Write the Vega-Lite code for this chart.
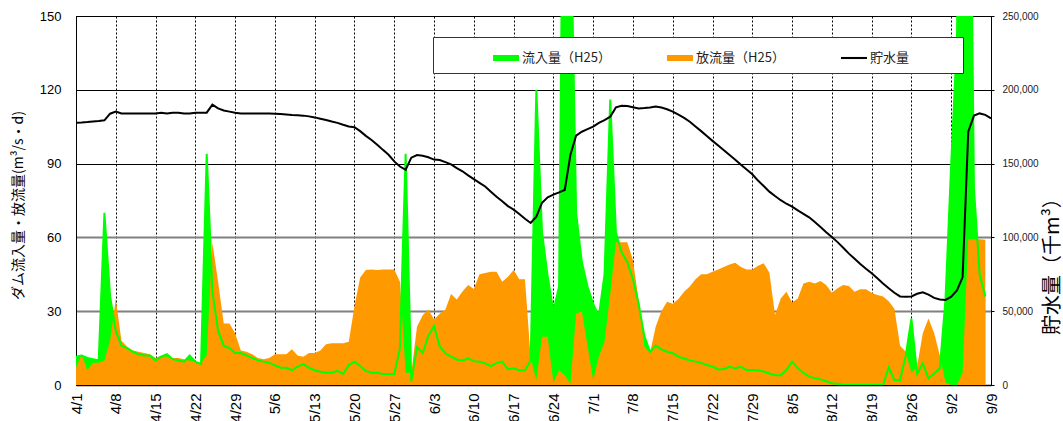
{
"$schema": "https://vega.github.io/schema/vega-lite/v6.json",
"width": 915, "height": 369,
"autosize": {"type": "none"},
"padding": {"left": 76, "top": 16, "right": 72, "bottom": 36},
"background": "white",
"config": {"view": {"stroke": "#000", "strokeWidth": 1}, "font": "Liberation Sans"},
"data": {"values": [
{"date":"2013-04-01","inflow":11.5,"outflow":7,"storage":177700},
{"date":"2013-04-02","inflow":12,"outflow":12.5,"storage":177900},
{"date":"2013-04-03","inflow":11,"outflow":6,"storage":178200},
{"date":"2013-04-04","inflow":10.5,"outflow":9,"storage":178600},
{"date":"2013-04-05","inflow":10,"outflow":9,"storage":178800},
{"date":"2013-04-06","inflow":70,"outflow":10,"storage":179300},
{"date":"2013-04-07","inflow":36,"outflow":18,"storage":183800},
{"date":"2013-04-08","inflow":22,"outflow":35,"storage":185200},
{"date":"2013-04-09","inflow":16,"outflow":18,"storage":184000},
{"date":"2013-04-10","inflow":15,"outflow":15.5,"storage":184000},
{"date":"2013-04-11","inflow":13.5,"outflow":14,"storage":184000},
{"date":"2013-04-12","inflow":12.5,"outflow":13.5,"storage":184000},
{"date":"2013-04-13","inflow":12,"outflow":13,"storage":184000},
{"date":"2013-04-14","inflow":12,"outflow":12.5,"storage":184000},
{"date":"2013-04-15","inflow":10,"outflow":11,"storage":184000},
{"date":"2013-04-16","inflow":11.5,"outflow":12,"storage":184500},
{"date":"2013-04-17","inflow":12.5,"outflow":11.5,"storage":184000},
{"date":"2013-04-18","inflow":10.5,"outflow":11,"storage":184500},
{"date":"2013-04-19","inflow":10,"outflow":11,"storage":184500},
{"date":"2013-04-20","inflow":9.5,"outflow":10.5,"storage":184000},
{"date":"2013-04-21","inflow":12,"outflow":10,"storage":184000},
{"date":"2013-04-22","inflow":9.5,"outflow":9.5,"storage":184500},
{"date":"2013-04-23","inflow":8.5,"outflow":9,"storage":184500},
{"date":"2013-04-24","inflow":94,"outflow":12,"storage":184500},
{"date":"2013-04-25","inflow":38,"outflow":58,"storage":189900},
{"date":"2013-04-26","inflow":22,"outflow":42,"storage":187400},
{"date":"2013-04-27","inflow":16,"outflow":25,"storage":186000},
{"date":"2013-04-28","inflow":15,"outflow":25,"storage":185200},
{"date":"2013-04-29","inflow":13,"outflow":21,"storage":184400},
{"date":"2013-04-30","inflow":13,"outflow":14,"storage":184000},
{"date":"2013-05-01","inflow":12,"outflow":13.5,"storage":184000},
{"date":"2013-05-02","inflow":11,"outflow":12.5,"storage":184000},
{"date":"2013-05-03","inflow":10,"outflow":11,"storage":184000},
{"date":"2013-05-04","inflow":9.5,"outflow":10.5,"storage":184000},
{"date":"2013-05-05","inflow":9,"outflow":11,"storage":184000},
{"date":"2013-05-06","inflow":8,"outflow":12.5,"storage":183800},
{"date":"2013-05-07","inflow":7,"outflow":12.5,"storage":183600},
{"date":"2013-05-08","inflow":7,"outflow":12.5,"storage":183300},
{"date":"2013-05-09","inflow":6,"outflow":14.5,"storage":183000},
{"date":"2013-05-10","inflow":7.5,"outflow":12,"storage":182800},
{"date":"2013-05-11","inflow":8.5,"outflow":11.5,"storage":182500},
{"date":"2013-05-12","inflow":7,"outflow":13,"storage":182000},
{"date":"2013-05-13","inflow":6,"outflow":13,"storage":181300},
{"date":"2013-05-14","inflow":5.4,"outflow":14,"storage":180400},
{"date":"2013-05-15","inflow":5.1,"outflow":16.6,"storage":179500},
{"date":"2013-05-16","inflow":5,"outflow":17,"storage":178500},
{"date":"2013-05-17","inflow":5.8,"outflow":17,"storage":177600},
{"date":"2013-05-18","inflow":4.5,"outflow":17,"storage":176300},
{"date":"2013-05-19","inflow":8.1,"outflow":17.6,"storage":175200},
{"date":"2013-05-20","inflow":9.5,"outflow":32,"storage":174600},
{"date":"2013-05-21","inflow":7.7,"outflow":43.7,"storage":172000},
{"date":"2013-05-22","inflow":5.7,"outflow":46.7,"storage":168800},
{"date":"2013-05-23","inflow":5,"outflow":47,"storage":166000},
{"date":"2013-05-24","inflow":5,"outflow":46.7,"storage":162800},
{"date":"2013-05-25","inflow":4.5,"outflow":47,"storage":159300},
{"date":"2013-05-26","inflow":4.5,"outflow":47,"storage":156000},
{"date":"2013-05-27","inflow":4.5,"outflow":47,"storage":151500},
{"date":"2013-05-28","inflow":15,"outflow":42,"storage":148000},
{"date":"2013-05-29","inflow":94,"outflow":5,"storage":145700},
{"date":"2013-05-30","inflow":1.5,"outflow":5,"storage":154000},
{"date":"2013-05-31","inflow":15.5,"outflow":23.7,"storage":155800},
{"date":"2013-06-01","inflow":13,"outflow":28.4,"storage":155300},
{"date":"2013-06-02","inflow":20,"outflow":30.7,"storage":154300},
{"date":"2013-06-03","inflow":24,"outflow":26.6,"storage":152700},
{"date":"2013-06-04","inflow":15.6,"outflow":29,"storage":152400},
{"date":"2013-06-05","inflow":12.9,"outflow":30.7,"storage":151000},
{"date":"2013-06-06","inflow":11.5,"outflow":37,"storage":149500},
{"date":"2013-06-07","inflow":10.4,"outflow":34.8,"storage":147000},
{"date":"2013-06-08","inflow":10,"outflow":38,"storage":144800},
{"date":"2013-06-09","inflow":10.8,"outflow":40.6,"storage":142000},
{"date":"2013-06-10","inflow":9.7,"outflow":39,"storage":139500},
{"date":"2013-06-11","inflow":9.5,"outflow":45,"storage":137000},
{"date":"2013-06-12","inflow":8.8,"outflow":45.5,"storage":134500},
{"date":"2013-06-13","inflow":7.7,"outflow":46,"storage":131000},
{"date":"2013-06-14","inflow":9,"outflow":46,"storage":127500},
{"date":"2013-06-15","inflow":9.5,"outflow":42,"storage":124500},
{"date":"2013-06-16","inflow":6.4,"outflow":44,"storage":121200},
{"date":"2013-06-17","inflow":6.8,"outflow":46.7,"storage":118800},
{"date":"2013-06-18","inflow":6,"outflow":43,"storage":115800},
{"date":"2013-06-19","inflow":6,"outflow":43,"storage":112600},
{"date":"2013-06-20","inflow":10,"outflow":11,"storage":109800},
{"date":"2013-06-21","inflow":120,"outflow":2,"storage":114000},
{"date":"2013-06-22","inflow":62,"outflow":19.6,"storage":123500},
{"date":"2013-06-23","inflow":44,"outflow":19.6,"storage":127200},
{"date":"2013-06-24","inflow":30,"outflow":1,"storage":129000},
{"date":"2013-06-25","inflow":40,"outflow":6,"storage":130500},
{"date":"2013-06-26","inflow":300,"outflow":4,"storage":132100},
{"date":"2013-06-27","inflow":200,"outflow":0.5,"storage":156000},
{"date":"2013-06-28","inflow":70,"outflow":29,"storage":169000},
{"date":"2013-06-29","inflow":50,"outflow":30,"storage":171600},
{"date":"2013-06-30","inflow":40,"outflow":16,"storage":173300},
{"date":"2013-07-01","inflow":33,"outflow":2,"storage":175000},
{"date":"2013-07-02","inflow":28,"outflow":11.5,"storage":177600},
{"date":"2013-07-03","inflow":45,"outflow":17.6,"storage":179500},
{"date":"2013-07-04","inflow":116,"outflow":37,"storage":181800},
{"date":"2013-07-05","inflow":62,"outflow":58,"storage":188100},
{"date":"2013-07-06","inflow":54,"outflow":58,"storage":189200},
{"date":"2013-07-07","inflow":50,"outflow":58,"storage":189000},
{"date":"2013-07-08","inflow":43,"outflow":50.7,"storage":188200},
{"date":"2013-07-09","inflow":33,"outflow":34.5,"storage":187400},
{"date":"2013-07-10","inflow":20,"outflow":15.6,"storage":187600},
{"date":"2013-07-11","inflow":13.5,"outflow":13,"storage":188000},
{"date":"2013-07-12","inflow":16,"outflow":23.7,"storage":188600},
{"date":"2013-07-13","inflow":14.5,"outflow":30,"storage":188000},
{"date":"2013-07-14","inflow":13.5,"outflow":33.8,"storage":186800},
{"date":"2013-07-15","inflow":12.9,"outflow":33,"storage":185200},
{"date":"2013-07-16","inflow":11.5,"outflow":35,"storage":183200},
{"date":"2013-07-17","inflow":10.8,"outflow":37.9,"storage":181000},
{"date":"2013-07-18","inflow":10,"outflow":40,"storage":178400},
{"date":"2013-07-19","inflow":9.5,"outflow":43,"storage":175200},
{"date":"2013-07-20","inflow":9,"outflow":45,"storage":172000},
{"date":"2013-07-21","inflow":8.1,"outflow":45,"storage":168700},
{"date":"2013-07-22","inflow":7.5,"outflow":46,"storage":165400},
{"date":"2013-07-23","inflow":6.3,"outflow":47,"storage":162300},
{"date":"2013-07-24","inflow":6.5,"outflow":48,"storage":159000},
{"date":"2013-07-25","inflow":7.4,"outflow":49,"storage":155800},
{"date":"2013-07-26","inflow":6.8,"outflow":49.7,"storage":152600},
{"date":"2013-07-27","inflow":7.4,"outflow":48,"storage":149200},
{"date":"2013-07-28","inflow":6.1,"outflow":47,"storage":146000},
{"date":"2013-07-29","inflow":6.1,"outflow":47,"storage":142800},
{"date":"2013-07-30","inflow":6,"outflow":48.5,"storage":138500},
{"date":"2013-07-31","inflow":5.5,"outflow":49.5,"storage":134800},
{"date":"2013-08-01","inflow":4.7,"outflow":45.7,"storage":131000},
{"date":"2013-08-02","inflow":4,"outflow":28.5,"storage":128000},
{"date":"2013-08-03","inflow":4,"outflow":35.2,"storage":125200},
{"date":"2013-08-04","inflow":6.1,"outflow":37.9,"storage":122800},
{"date":"2013-08-05","inflow":9.5,"outflow":33.5,"storage":120800},
{"date":"2013-08-06","inflow":6.8,"outflow":35.2,"storage":118300},
{"date":"2013-08-07","inflow":5,"outflow":41.3,"storage":116000},
{"date":"2013-08-08","inflow":3.4,"outflow":42,"storage":113600},
{"date":"2013-08-09","inflow":2.8,"outflow":41.3,"storage":110400},
{"date":"2013-08-10","inflow":2.3,"outflow":42.3,"storage":107000},
{"date":"2013-08-11","inflow":1.5,"outflow":40.7,"storage":103500},
{"date":"2013-08-12","inflow":0.7,"outflow":37.5,"storage":100200},
{"date":"2013-08-13","inflow":0.5,"outflow":39.3,"storage":96800},
{"date":"2013-08-14","inflow":0,"outflow":40.7,"storage":93000},
{"date":"2013-08-15","inflow":0,"outflow":40.2,"storage":89000},
{"date":"2013-08-16","inflow":0,"outflow":37.9,"storage":85500},
{"date":"2013-08-17","inflow":0,"outflow":38.9,"storage":82000},
{"date":"2013-08-18","inflow":0,"outflow":38.9,"storage":78800},
{"date":"2013-08-19","inflow":0,"outflow":37.5,"storage":75700},
{"date":"2013-08-20","inflow":0,"outflow":36.6,"storage":72300},
{"date":"2013-08-21","inflow":0,"outflow":36,"storage":68800},
{"date":"2013-08-22","inflow":7.2,"outflow":34,"storage":65500},
{"date":"2013-08-23","inflow":2,"outflow":31,"storage":62500},
{"date":"2013-08-24","inflow":2,"outflow":16,"storage":60000},
{"date":"2013-08-25","inflow":12,"outflow":13.5,"storage":59800},
{"date":"2013-08-26","inflow":27,"outflow":5,"storage":60000},
{"date":"2013-08-27","inflow":4.5,"outflow":7.5,"storage":61800},
{"date":"2013-08-28","inflow":8.8,"outflow":21,"storage":62800},
{"date":"2013-08-29","inflow":2.7,"outflow":27,"storage":61200},
{"date":"2013-08-30","inflow":4.7,"outflow":21,"storage":59000},
{"date":"2013-08-31","inflow":6.8,"outflow":12,"storage":58000},
{"date":"2013-09-01","inflow":35,"outflow":1,"storage":57600},
{"date":"2013-09-02","inflow":90,"outflow":0,"storage":59800},
{"date":"2013-09-03","inflow":140,"outflow":0,"storage":64000},
{"date":"2013-09-04","inflow":300,"outflow":5,"storage":73000},
{"date":"2013-09-05","inflow":300,"outflow":59.2,"storage":171600},
{"date":"2013-09-06","inflow":80,"outflow":59.2,"storage":182500},
{"date":"2013-09-07","inflow":45,"outflow":59.2,"storage":184000},
{"date":"2013-09-08","inflow":36,"outflow":59,"storage":183000},
{"date":"2013-09-09","inflow":null,"outflow":null,"storage":180700}
]},
"encoding": {
  "x": {"field": "date", "type": "temporal",
    "scale": {"type": "utc", "domain": [{"year":2013,"month":4,"date":1,"utc":true},{"year":2013,"month":9,"date":9,"utc":true}]},
    "axis": {
      "values": [
        {"year":2013,"month":4,"date":1,"utc":true},{"year":2013,"month":4,"date":8,"utc":true},{"year":2013,"month":4,"date":15,"utc":true},{"year":2013,"month":4,"date":22,"utc":true},{"year":2013,"month":4,"date":29,"utc":true},
        {"year":2013,"month":5,"date":6,"utc":true},{"year":2013,"month":5,"date":13,"utc":true},{"year":2013,"month":5,"date":20,"utc":true},{"year":2013,"month":5,"date":27,"utc":true},
        {"year":2013,"month":6,"date":3,"utc":true},{"year":2013,"month":6,"date":10,"utc":true},{"year":2013,"month":6,"date":17,"utc":true},{"year":2013,"month":6,"date":24,"utc":true},
        {"year":2013,"month":7,"date":1,"utc":true},{"year":2013,"month":7,"date":8,"utc":true},{"year":2013,"month":7,"date":15,"utc":true},{"year":2013,"month":7,"date":22,"utc":true},{"year":2013,"month":7,"date":29,"utc":true},
        {"year":2013,"month":8,"date":5,"utc":true},{"year":2013,"month":8,"date":12,"utc":true},{"year":2013,"month":8,"date":19,"utc":true},{"year":2013,"month":8,"date":26,"utc":true},
        {"year":2013,"month":9,"date":2,"utc":true},{"year":2013,"month":9,"date":9,"utc":true}
      ],
      "labelExpr": "utcFormat(datum.value, '%-m/%-d')",
      "labelAngle": -90, "labelFontSize": 15, "labelColor": "#000", "labelFont": "Liberation Sans",
      "labelPadding": 8, "labelOverlap": false, "labelBound": false,
      "ticks": false, "domainColor": "#000",
      "grid": true, "gridColor": "#000", "gridDash": [2, 2], "gridWidth": 1,
      "title": null
    }
  }
},
"layer": [
  {"layer": [
    {"mark": {"type": "area", "color": "#00ff00", "clip": true},
     "encoding": {"y": {"field": "inflow", "type": "quantitative",
       "scale": {"domain": [0, 150], "nice": false},
       "axis": {"values": [0, 30, 60, 90, 120, 150],
         "title": "ダム流入量・放流量(m³/s・d)", "titleFont": "Noto Sans CJK JP", "titleFontSize": 14,
         "titleFontWeight": "normal", "titleColor": "#000", "titleAngle": -90,
         "titleX": -58, "titleY": 189, "titleAlign": "center", "titleBaseline": "middle",
         "labelFontSize": 13, "labelColor": "#000", "labelFont": "Liberation Sans", "labelPadding": 15,
         "ticks": false, "domainColor": "#000",
         "grid": true,
         "gridColor": {"condition": {"test": "datum.value >= 90", "value": "#000"}, "value": "#808080"},
         "gridWidth": {"condition": {"test": "datum.value >= 90", "value": 1}, "value": 2}}}}},
    {"mark": {"type": "area", "color": "#ff9900", "clip": true},
     "encoding": {"y": {"field": "outflow", "type": "quantitative"}}},
    {"mark": {"type": "line", "color": "#00ff00", "strokeWidth": 2, "clip": true},
     "encoding": {"y": {"field": "inflow", "type": "quantitative"}}},
    {"transform": [{"filter": "false"}],
     "mark": {"type": "point", "filled": true},
     "encoding": {
       "color": {"field": "series", "type": "nominal",
         "scale": {"domain": ["inflow", "outflow", "storage"], "range": ["#00ff00", "#ff9900", "#000000"]},
         "legend": {"title": null, "orient": "none", "legendX": 357, "legendY": 21, "direction": "horizontal",
           "fillColor": "#ffffff", "strokeColor": "#333333", "padding": 8, "symbolOffset": 52,
           "symbolSize": 676, "symbolStrokeWidth": 0, "symbolOpacity": 1,
           "labelFont": "Noto Sans CJK JP", "labelFontSize": 13, "labelColor": "#222", "labelOffset": 3,
           "labelLimit": 250, "columnPadding": 4, "gridAlign": "all",
           "labelExpr": "datum.label == 'inflow' ? '流入量（H25）' : datum.label == 'outflow' ? '放流量（H25）' : '貯水量\u3000\u3000\u3000\u2002\u200b'"}},
       "shape": {"field": "series", "type": "nominal",
         "scale": {"domain": ["inflow", "outflow", "storage"], "range": ["M-1,-0.23H1V0.23H-1Z", "M-1,-0.23H1V0.23H-1Z", "M-1,-0.08H1V0.08H-1Z"]},
         "legend": {"title": null, "orient": "none", "legendX": 357, "legendY": 21, "direction": "horizontal",
           "fillColor": "#ffffff", "strokeColor": "#333333", "padding": 8, "symbolOffset": 52,
           "symbolSize": 676, "symbolStrokeWidth": 0, "symbolOpacity": 1,
           "labelFont": "Noto Sans CJK JP", "labelFontSize": 13, "labelColor": "#222", "labelOffset": 3,
           "labelLimit": 250, "columnPadding": 4, "gridAlign": "all",
           "labelExpr": "datum.label == 'inflow' ? '流入量（H25）' : datum.label == 'outflow' ? '放流量（H25）' : '貯水量\u3000\u3000\u3000\u2002\u200b'"}}
     }}
  ]},
  {"mark": {"type": "line", "color": "#000000", "strokeWidth": 2},
   "encoding": {"y": {"field": "storage", "type": "quantitative",
     "scale": {"domain": [0, 250000], "nice": false},
     "axis": {"orient": "right", "values": [0, 50000, 100000, 150000, 200000, 250000], "format": ",.0f",
       "labelFontSize": 10, "labelColor": "#222", "labelFont": "Liberation Sans", "labelPadding": 8,
       "tickSize": 3, "tickColor": "#000", "domainColor": "#000", "grid": false,
       "title": "貯水量（千m³）", "titleFont": "Noto Sans CJK JP", "titleFontSize": 20, "titleFontWeight": "normal",
       "titleColor": "#000", "titleAngle": -90, "titleX": 61, "titleY": 245, "titleAlign": "center", "titleBaseline": "middle"}}}}
],
"resolve": {"scale": {"y": "independent"}}
}
